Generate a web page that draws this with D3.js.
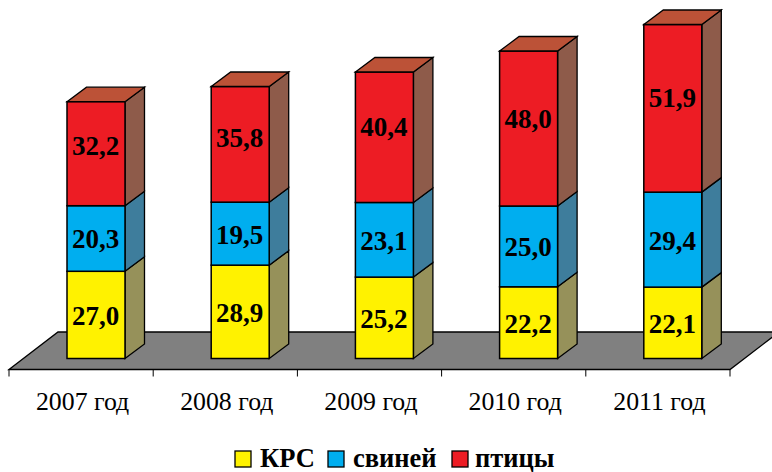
<!DOCTYPE html>
<meta charset="utf-8">

<head>
    <style>
        body {
            margin: 0;
            background: white;
        }

        svg {
            display: block;
        }

        text {
            font-family: "Liberation Serif", serif;
            fill: black;
        }

        .value {
            font-size: 27px;
            font-weight: bold;
            text-anchor: middle;
        }

        .category {
            font-size: 25.8px;
            text-anchor: middle;
        }

        .legend-label {
            font-size: 26.5px;
            font-weight: bold;
        }
    </style>
    <script src="https://d3js.org/d3.v7.min.js"></script>
</head>

<body>
    <script>
        const width = 772
        const height = 472

        const categories = ["2007 год", "2008 год", "2009 год", "2010 год", "2011 год"]
        const seriesNames = ["КРС", "свиней", "птицы"]
        const krs = [27.0, 28.9, 25.2, 22.2, 22.1]
        const pigs = [20.3, 19.5, 23.1, 25.0, 29.4]
        const birds = [32.2, 35.8, 40.4, 48.0, 51.9]

        const frontColors = ["#fff200", "#00aeef", "#ed1c24"]
        const sideColors = ["#96915a", "#3e7d9c", "#8e5b4a"]
        const topColor = "#bc5237"
        const floorColor = "#808080"

        const rows = categories.map((c, i) => ({ category: c, 0: krs[i], 1: pigs[i], 2: birds[i] }))
        const stacked = d3.stack().keys([0, 1, 2])(rows)

        const floorLeft = 9
        const floorRight = 730
        const floorFront = 369.5
        const floorBack = 332
        const floorDepth = 49
        const barWidth = 58
        const barShift = 58
        const depthX = 19.5
        const depthY = 14.5

        // the labels in the red part were moved by hand in the original
        const birdLabelShift = [-8.5, -7, -11, -11, -11]

        const xScale = d3.scaleBand()
            .domain(categories)
            .range([floorLeft, floorRight])

        const yScale = d3.scaleLinear()
            .domain([0, 103.4])
            .range([358.5, 24.5])

        const svg = d3.select("body").append("svg")
            .attr("width", width)
            .attr("height", height)

        // floor
        svg.append("path")
            .attr("d", `M${floorLeft},${floorFront}L${floorLeft + floorDepth},${floorBack}L${floorRight + floorDepth},${floorBack}L${floorRight},${floorFront}Z`)
            .attr("fill", floorColor)
            .attr("stroke", "black")
            .attr("stroke-width", 1.3)

        // axis ticks and category labels
        const axis = svg.append("g")
        axis.selectAll("line")
            .data(categories.concat([null]))
            .enter()
            .append("line")
            .attr("x1", (d) => d === null ? floorRight : xScale(d))
            .attr("x2", (d) => d === null ? floorRight : xScale(d))
            .attr("y1", floorFront)
            .attr("y2", floorFront + 7)
            .attr("stroke", "black")
            .attr("stroke-width", 1)

        axis.selectAll("text")
            .data(categories)
            .enter()
            .append("text")
            .attr("class", "category")
            .attr("x", (d) => xScale(d) + xScale.bandwidth() / 2 + 1.5)
            .attr("y", 410)
            .text((d) => d)

        // bars, one group per year so the nearer ones overlap correctly
        const bars = svg.selectAll(".bar")
            .data(categories)
            .enter()
            .append("g")
            .attr("class", "bar")

        bars.each(function (cat, i) {
            const g = d3.select(this)
            const x0 = xScale(cat) + barShift
            const x1 = x0 + barWidth

            stacked.forEach((layer, s) => {
                const yBottom = yScale(layer[i][0])
                const yTop = yScale(layer[i][1])
                const isTop = s === stacked.length - 1

                g.append("path")
                    .attr("d", `M${x1},${yBottom}L${x1 + depthX},${yBottom - depthY}L${x1 + depthX},${yTop - depthY}L${x1},${yTop}Z`)
                    .attr("fill", sideColors[s])
                    .attr("stroke", "black")
                    .attr("stroke-width", 1.3)

                g.append("rect")
                    .attr("x", x0)
                    .attr("y", yTop)
                    .attr("width", barWidth)
                    .attr("height", yBottom - yTop)
                    .attr("fill", frontColors[s])
                    .attr("stroke", "black")
                    .attr("stroke-width", 1.5)

                if (isTop) {
                    g.append("path")
                        .attr("d", `M${x0},${yTop}L${x0 + depthX},${yTop - depthY}L${x1 + depthX},${yTop - depthY}L${x1},${yTop}Z`)
                        .attr("fill", topColor)
                        .attr("stroke", "black")
                        .attr("stroke-width", 1.3)
                }

                g.append("text")
                    .attr("class", "value")
                    .attr("x", x0 + barWidth / 2 - 0.5)
                    .attr("y", (yTop + yBottom) / 2 + 10 + (isTop ? birdLabelShift[i] : 0))
                    .text(d3.format(".1f")(layer[i][1] - layer[i][0]).replace(".", ","))
            })
        })

        // legend
        const legendX = [235, 328, 452]
        const legend = svg.selectAll(".legend")
            .data(seriesNames)
            .enter()
            .append("g")
            .attr("class", "legend")
            .attr("transform", (d, i) => `translate(${legendX[i]},451)`)

        legend.append("rect")
            .attr("width", 16)
            .attr("height", 16)
            .attr("fill", (d, i) => frontColors[i])
            .attr("stroke", "black")
            .attr("stroke-width", 1.3)

        legend.append("text")
            .attr("class", "legend-label")
            .attr("x", (d, i) => i === 2 ? 23 : 25)
            .attr("y", 15.5)
            .text((d) => d)
    </script>
</body>
